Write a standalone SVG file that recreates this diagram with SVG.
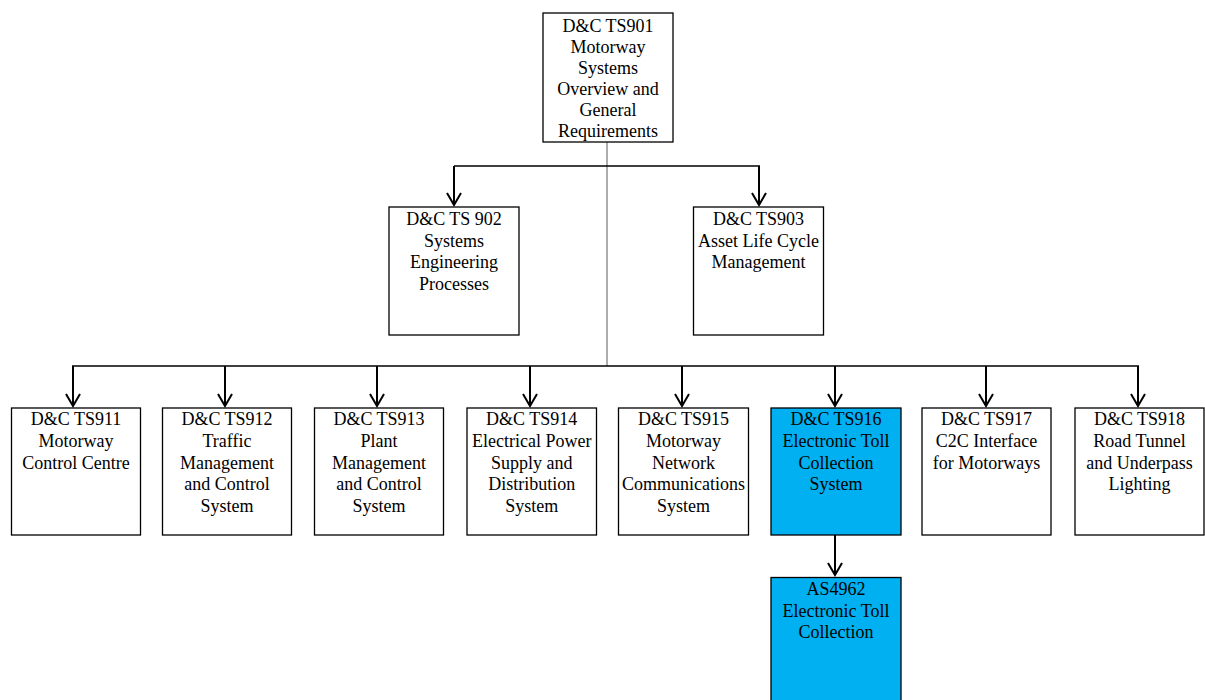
<svg xmlns="http://www.w3.org/2000/svg" width="1205" height="700" viewBox="0 0 1205 700">
<style>
.box{fill:#ffffff;stroke:#000000;stroke-width:1.3}
.hl{fill:#00B0F0;stroke:#000000;stroke-width:1.3}
text{font-family:"Liberation Serif","Times New Roman",serif;font-size:18px;fill:#000000;text-anchor:middle}
.ln{stroke:#000000;stroke-width:1.6;fill:none}
.trunk{stroke:#808080;stroke-width:1.3;fill:none}
.arr{stroke:#000000;stroke-width:2;fill:none}
</style>
<defs>
<marker id="ah" markerWidth="16" markerHeight="18" refX="13" refY="8" orient="auto" markerUnits="userSpaceOnUse">
<path d="M1,1 L13,8 L1,15" fill="none" stroke="#000" stroke-width="2"/>
</marker>
</defs>
<g id="connectors">
<line class="trunk" x1="607" y1="142" x2="607" y2="366"/>
<line class="ln" x1="454" y1="166" x2="760" y2="166"/>
<line class="arr" x1="454" y1="166" x2="454" y2="205" marker-end="url(#ah)"/>
<line class="arr" x1="759" y1="166" x2="759" y2="205" marker-end="url(#ah)"/>
<line class="ln" x1="72" y1="366" x2="1139" y2="366"/>
<line class="arr" x1="73" y1="366" x2="73" y2="406" marker-end="url(#ah)"/>
<line class="arr" x1="225" y1="366" x2="225" y2="406" marker-end="url(#ah)"/>
<line class="arr" x1="377" y1="366" x2="377" y2="406" marker-end="url(#ah)"/>
<line class="arr" x1="530" y1="366" x2="530" y2="406" marker-end="url(#ah)"/>
<line class="arr" x1="682" y1="366" x2="682" y2="406" marker-end="url(#ah)"/>
<line class="arr" x1="835" y1="366" x2="835" y2="406" marker-end="url(#ah)"/>
<line class="arr" x1="986" y1="366" x2="986" y2="406" marker-end="url(#ah)"/>
<line class="arr" x1="1138" y1="366" x2="1138" y2="406" marker-end="url(#ah)"/>
<line class="arr" x1="835" y1="535" x2="835" y2="575" marker-end="url(#ah)"/>
</g>
<g id="ts901">
<rect class="box" x="543" y="13" width="130" height="129"/>
<text x="608" y="32">D&amp;C TS901</text>
<text x="608" y="53">Motorway</text>
<text x="608" y="74">Systems</text>
<text x="608" y="95">Overview and</text>
<text x="608" y="116">General</text>
<text x="608" y="137">Requirements</text>
</g>
<g id="ts902">
<rect class="box" x="389" y="207" width="130" height="128"/>
<text x="454" y="225">D&amp;C TS 902</text>
<text x="454" y="246.7">Systems</text>
<text x="454" y="268.4">Engineering</text>
<text x="454" y="290.1">Processes</text>
</g>
<g id="ts903">
<rect class="box" x="693.5" y="207" width="130" height="128"/>
<text x="758.5" y="225">D&amp;C TS903</text>
<text x="758.5" y="246.7">Asset Life Cycle</text>
<text x="758.5" y="268.4">Management</text>
</g>
<g id="ts911">
<rect class="box" x="11.5" y="408" width="129" height="127"/>
<text x="76" y="425">D&amp;C TS911</text>
<text x="76" y="446.8">Motorway</text>
<text x="76" y="468.6">Control Centre</text>
</g>
<g id="ts912">
<rect class="box" x="162.5" y="408" width="129" height="127"/>
<text x="227" y="425">D&amp;C TS912</text>
<text x="227" y="446.8">Traffic</text>
<text x="227" y="468.6">Management</text>
<text x="227" y="490.4">and Control</text>
<text x="227" y="512.2">System</text>
</g>
<g id="ts913">
<rect class="box" x="314.5" y="408" width="129" height="127"/>
<text x="379" y="425">D&amp;C TS913</text>
<text x="379" y="446.8">Plant</text>
<text x="379" y="468.6">Management</text>
<text x="379" y="490.4">and Control</text>
<text x="379" y="512.2">System</text>
</g>
<g id="ts914">
<rect class="box" x="467" y="408" width="129.5" height="127"/>
<text x="531.7" y="425">D&amp;C TS914</text>
<text x="531.7" y="446.8">Electrical Power</text>
<text x="531.7" y="468.6">Supply and</text>
<text x="531.7" y="490.4">Distribution</text>
<text x="531.7" y="512.2">System</text>
</g>
<g id="ts915">
<rect class="box" x="618.5" y="408" width="130" height="127"/>
<text x="683.5" y="425">D&amp;C TS915</text>
<text x="683.5" y="446.8">Motorway</text>
<text x="683.5" y="468.6">Network</text>
<text x="683.5" y="490.4">Communications</text>
<text x="683.5" y="512.2">System</text>
</g>
<g id="ts916">
<rect class="hl" x="771" y="408" width="130" height="127"/>
<text x="836" y="425">D&amp;C TS916</text>
<text x="836" y="446.8">Electronic Toll</text>
<text x="836" y="468.6">Collection</text>
<text x="836" y="490.4">System</text>
</g>
<g id="ts917">
<rect class="box" x="922" y="408" width="129" height="127"/>
<text x="986.5" y="425">D&amp;C TS917</text>
<text x="986.5" y="446.8">C2C Interface</text>
<text x="986.5" y="468.6">for Motorways</text>
</g>
<g id="ts918">
<rect class="box" x="1075" y="408" width="129" height="127"/>
<text x="1139.5" y="425">D&amp;C TS918</text>
<text x="1139.5" y="446.8">Road Tunnel</text>
<text x="1139.5" y="468.6">and Underpass</text>
<text x="1139.5" y="490.4">Lighting</text>
</g>
<g id="as4962">
<rect class="hl" x="771" y="577.5" width="130" height="130"/>
<text x="836" y="595">AS4962</text>
<text x="836" y="616.7">Electronic Toll</text>
<text x="836" y="638.4">Collection</text>
</g>
</svg>
